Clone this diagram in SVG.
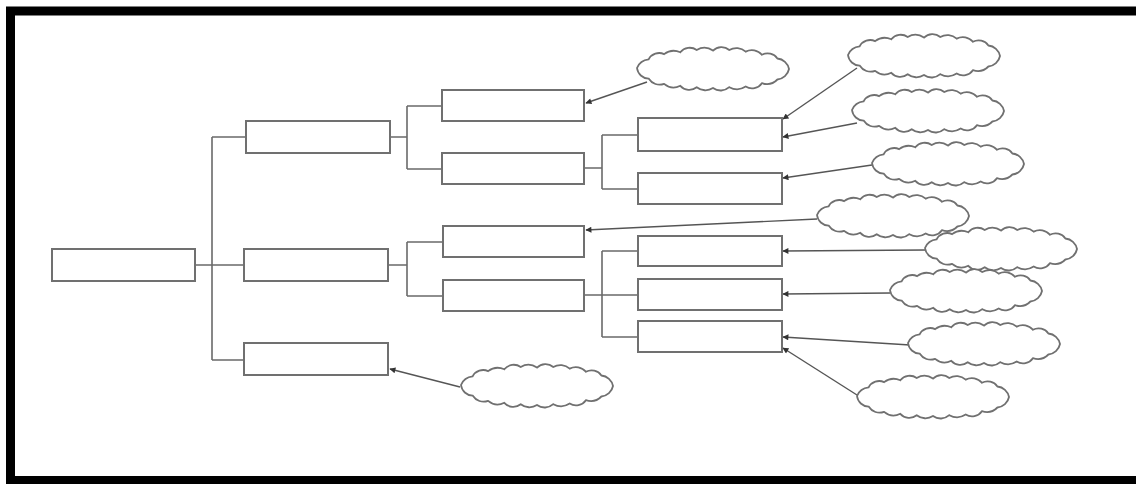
<svg xmlns="http://www.w3.org/2000/svg" width="1136" height="484" viewBox="0 0 1136 484">
  <style>
    .box { fill: #ffffff; stroke: #707070; stroke-width: 2; }
    .link { fill: none; stroke: #6a6a6a; stroke-width: 1.6; }
    .arrow { fill: none; stroke: #555555; stroke-width: 1.4; marker-end: url(#head); }
    .cloud { fill: #ffffff; stroke: #707070; stroke-width: 1.8; }
  </style>
  <defs>
    <marker id="head" viewBox="0 0 10 10" refX="9" refY="5" markerWidth="9" markerHeight="6" markerUnits="userSpaceOnUse" orient="auto">
      <path d="M0,0 L10,5 L0,10 Z" fill="#333333"/>
    </marker>
    <!-- scalloped cloud outline, about 152 x 38, shallow uneven bumps -->
    <path id="cloudShape" class="cloud" d="M154,21 A13,13 0 0 1 142.4,31.5 A15,15 0 0 1 126.9,35.2 A12,12 0 0 1 110.7,38.6 A16,16 0 0 1 94.3,39.2 A13,13 0 0 1 78,40 A14,14 0 0 1 61.7,39.3 A12,12 0 0 1 45.3,37.8 A15,15 0 0 1 29.1,35.9 A13,13 0 0 1 13.6,30.6 A12,12 0 0 1 2,20 A14,14 0 0 1 13.6,11.4 A12,12 0 0 1 29.1,6.1 A16,16 0 0 1 45.3,4.3 A12,12 0 0 1 61.7,2.0 A15,15 0 0 1 78,2.6 A12,12 0 0 1 94.3,2.0 A14,14 0 0 1 110.7,3.6 A13,13 0 0 1 126.9,6.8 A12,12 0 0 1 142.4,10.5 A13,13 0 0 1 154,21 Z"/>
  </defs>

  <rect x="0" y="0" width="1136" height="484" fill="#ffffff"/>
  <!-- heavy frame, right side runs off the page -->
  <rect x="10.5" y="11" width="1200" height="469.5" fill="none" stroke="#000000" stroke-width="9"/>

  <!-- tree links -->
  <g id="connectors">
    <path class="link" d="M195,265 H212 M212,137 V360 M212,137 H246 M212,265 H244 M212,360 H244"/>
    <path class="link" d="M390,137 H407 M407,106 V169 M407,106 H442 M407,169 H442"/>
    <path class="link" d="M584,168 H602 M602,135 V189 M602,135 H638 M602,189 H638"/>
    <path class="link" d="M388,265 H407 M407,242 V296 M407,242 H443 M407,296 H443"/>
    <path class="link" d="M584,295 H638 M602,251 V337 M602,251 H638 M602,337 H638"/>
    <!-- cloud annotations pointing at boxes -->
    <line class="arrow" x1="647" y1="82" x2="586" y2="103"/>
    <line class="arrow" x1="857" y1="68" x2="783" y2="119"/>
    <line class="arrow" x1="857" y1="123" x2="783" y2="137"/>
    <line class="arrow" x1="872" y1="165" x2="783" y2="178"/>
    <line class="arrow" x1="817" y1="219" x2="586" y2="230"/>
    <line class="arrow" x1="925" y1="250" x2="783" y2="251"/>
    <line class="arrow" x1="890" y1="293" x2="783" y2="294"/>
    <line class="arrow" x1="910" y1="345" x2="783" y2="337"/>
    <line class="arrow" x1="857" y1="395" x2="783" y2="348"/>
    <line class="arrow" x1="460" y1="387" x2="390" y2="369"/>
  </g>

  <!-- boxes -->
  <g id="root"><rect class="box" x="52" y="249" width="143" height="32"/></g>
  <g id="n1"><rect class="box" x="246" y="121" width="144" height="32"/></g>
  <g id="n2"><rect class="box" x="244" y="249" width="144" height="32"/></g>
  <g id="n3"><rect class="box" x="244" y="343" width="144" height="32"/></g>
  <g id="n11"><rect class="box" x="442" y="90" width="142" height="31"/></g>
  <g id="n12"><rect class="box" x="442" y="153" width="142" height="31"/></g>
  <g id="n21"><rect class="box" x="443" y="226" width="141" height="31"/></g>
  <g id="n22"><rect class="box" x="443" y="280" width="141" height="31"/></g>
  <g id="n121"><rect class="box" x="638" y="118" width="144" height="33"/></g>
  <g id="n122"><rect class="box" x="638" y="173" width="144" height="31"/></g>
  <g id="n221"><rect class="box" x="638" y="236" width="144" height="30"/></g>
  <g id="n222"><rect class="box" x="638" y="279" width="144" height="31"/></g>
  <g id="n223"><rect class="box" x="638" y="321" width="144" height="31"/></g>

  <!-- clouds -->
  <g id="c1"><use href="#cloudShape" transform="translate(635,48)"/></g>
  <g id="c2"><use href="#cloudShape" transform="translate(846,35)"/></g>
  <g id="c3"><use href="#cloudShape" transform="translate(850,90)"/></g>
  <g id="c4"><use href="#cloudShape" transform="translate(870,143)"/></g>
  <g id="c5"><use href="#cloudShape" transform="translate(815,195)"/></g>
  <g id="c6"><use href="#cloudShape" transform="translate(923,228)"/></g>
  <g id="c7"><use href="#cloudShape" transform="translate(888,270)"/></g>
  <g id="c8"><use href="#cloudShape" transform="translate(906,323)"/></g>
  <g id="c9"><use href="#cloudShape" transform="translate(855,376)"/></g>
  <g id="c10"><use href="#cloudShape" transform="translate(459,365)"/></g>
</svg>
